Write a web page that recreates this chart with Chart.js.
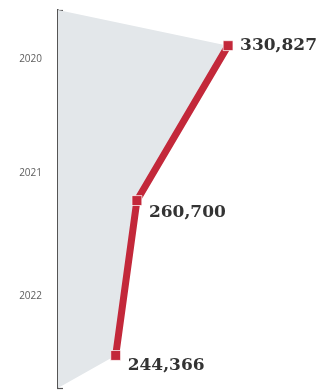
<!DOCTYPE html>
<html>
<head>
<meta charset="utf-8">
<script src="https://cdn.jsdelivr.net/npm/chart.js@4.4.1/dist/chart.umd.min.js"></script>
<style>
  html, body { margin: 0; padding: 0; background: #fff; }
  #wrap { width: 318px; height: 390px; }
</style>
</head>
<body>
<div id="wrap"><canvas id="popChart"></canvas></div>
<script>
const years = [2020, 2021, 2022];
const totals = [330827, 260700, 244366];
const totalLabels = ['330,827', '260,700', '244,366'];

// axis ranges (x starts at 200,000, years run top to bottom)
const X_MIN = 200000, X_MAX = 400000;
const Y_MIN = 2019.77, Y_MAX = 2022.21;

// where the year captions sit and where the small axis ticks go
const captionAt = [2020.09, 2020.82, 2021.62];
const tickAt = [Y_MIN, 2020.5, 2021.5, Y_MAX];

const linePts = years.map((yr, i) => ({ x: totals[i], y: yr }));
const shadePts = [{ x: X_MIN, y: Y_MIN }].concat(linePts, [{ x: X_MIN, y: Y_MAX }]);

const valueTags = {
    id: 'valueTags',
    afterDatasetsDraw(chart) {
        const pts = chart.getDatasetMeta(0).data;
        const ctx = chart.ctx;
        const drop = [0, 12, 10];
        ctx.save();
        ctx.font = 'bold 17px "DejaVu Serif"';
        ctx.fillStyle = '#333';
        ctx.textBaseline = 'middle';
        ctx.textAlign = 'left';
        pts.forEach((p, i) => {
            ctx.fillText(totalLabels[i], p.x + 12, p.y + drop[i]);
        });
        ctx.restore();
    }
};

const ctx = document.getElementById('popChart').getContext('2d');
new Chart(ctx, {
    type: 'line',
    data: {
        datasets: [
            {
                data: linePts,
                borderColor: '#c3283a',
                borderWidth: 7,
                borderJoinStyle: 'round',
                tension: 0,
                fill: false,
                pointStyle: 'rect',
                pointRadius: 7,
                pointBackgroundColor: '#c3283a',
                pointBorderColor: 'rgba(255,255,255,0.75)',
                pointBorderWidth: 1,
                clip: false
            },
            {
                data: shadePts,
                borderWidth: 0,
                pointRadius: 0,
                backgroundColor: '#e3e7ea',
                fill: 'shape'
            }
        ]
    },
    options: {
        indexAxis: 'y',
        responsive: true,
        maintainAspectRatio: false,
        animation: false,
        layout: { autoPadding: false, padding: { top: 10, bottom: 2, left: 0, right: 0 } },
        plugins: {
            legend: { display: false },
            tooltip: { enabled: false }
        },
        scales: {
            x: {
                type: 'linear',
                display: false,
                min: X_MIN,
                max: X_MAX
            },
            y: {
                type: 'linear',
                reverse: true,
                min: Y_MIN,
                max: Y_MAX,
                afterBuildTicks(scale) {
                    scale.ticks = tickAt.map(v => ({ value: v, text: '' }))
                        .concat(years.map((yr, i) => ({ value: captionAt[i], text: String(yr) })))
                        .sort((a, b) => a.value - b.value);
                },
                afterFit(scale) {
                    scale.width = 58;
                    scale.paddingTop = 0;
                    scale.paddingBottom = 0;
                },
                border: { display: true, color: '#555', width: 1.5 },
                grid: {
                    drawOnChartArea: false,
                    drawTicks: true,
                    tickLength: -5,
                    tickWidth: 1.2,
                    tickColor: c => (c.tick && c.tick.text) ? 'rgba(0,0,0,0)' : '#555'
                },
                ticks: {
                    autoSkip: false,
                    padding: 21,
                    color: '#5e5e5e',
                    font: { family: 'Open Sans', size: 10 },
                    callback: (v, i, t) => t[i].text
                }
            }
        }
    },
    plugins: [valueTags]
});
</script>
</body>
</html>
